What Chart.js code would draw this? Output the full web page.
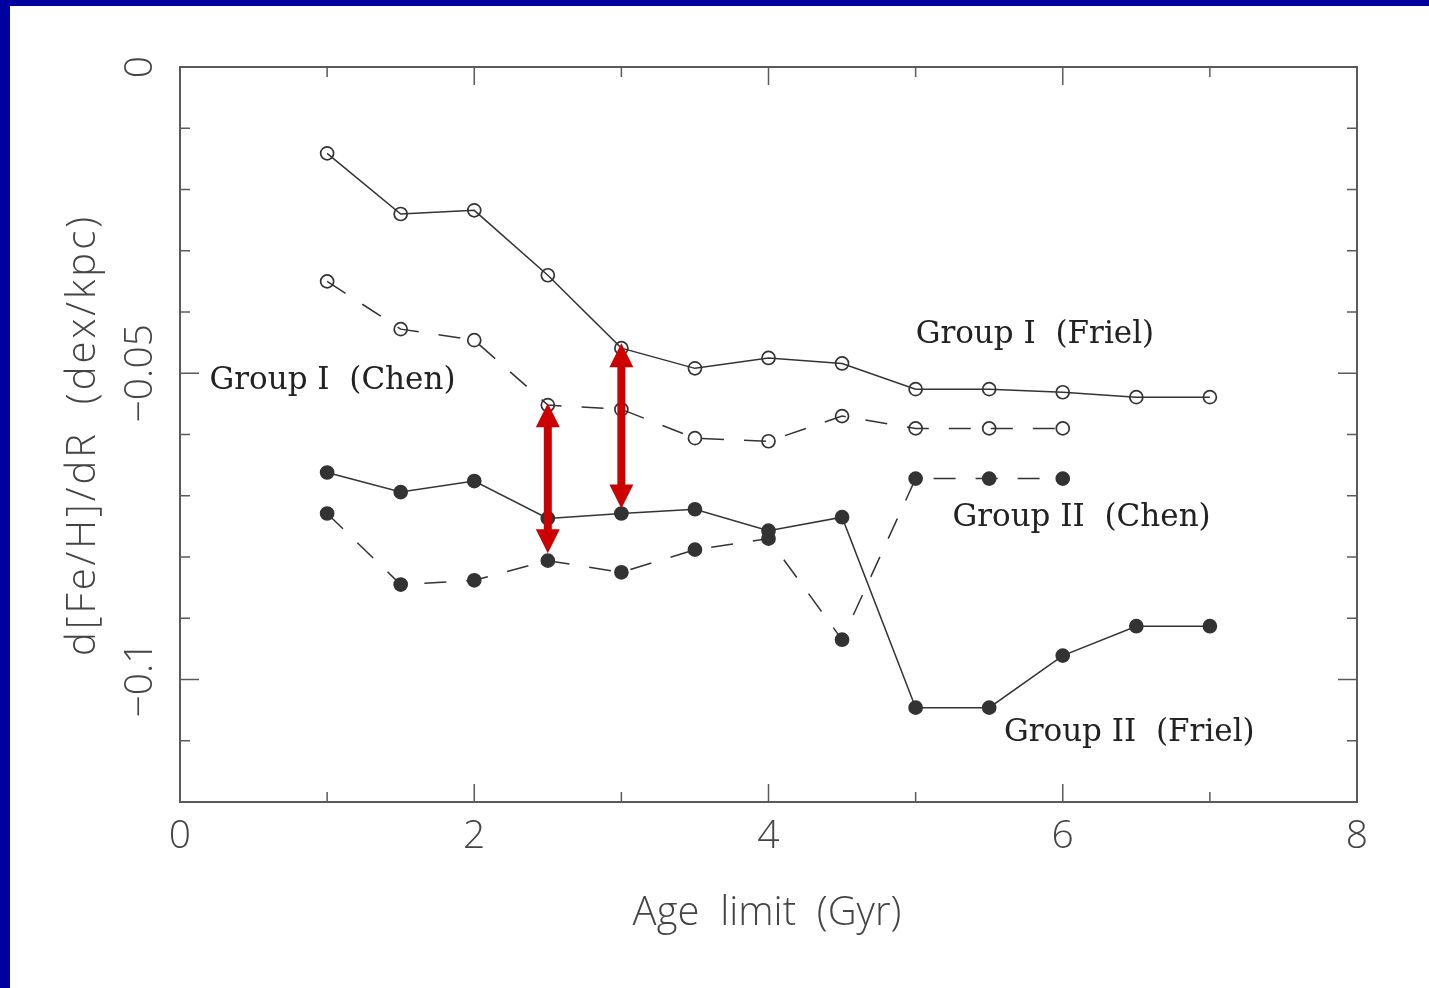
<!DOCTYPE html>
<html>
<head>
<meta charset="utf-8">
<script src="https://cdn.jsdelivr.net/npm/chart.js@4.4.1/dist/chart.umd.min.js"></script>
<style>
  html, body { margin: 0; padding: 0; background: #fff; }
  canvas { display: block; }
</style>
</head>
<body>
<canvas id="grad" width="1429" height="988"></canvas>
<script>
// ages (Gyr) for each group
const agesFriel = [1, 1.5, 2, 2.5, 3, 3.5, 4, 4.5, 5, 5.5, 6, 6.5, 7];
const agesChen = [1, 1.5, 2, 2.5, 3, 3.5, 4, 4.5, 5, 5.5, 6];

// gradients d[Fe/H]/dR
const groupIFriel = [-0.0141, -0.0240, -0.0234, -0.0340, -0.0459, -0.0492, -0.0475, -0.0484, -0.0526, -0.0526, -0.0531, -0.0539, -0.0539];
const groupIChen = [-0.0350, -0.0428, -0.0446, -0.0552, -0.0559, -0.0606, -0.0611, -0.0570, -0.0590, -0.0590, -0.0590];
const groupIIFriel = [-0.0662, -0.0694, -0.0676, -0.0737, -0.0729, -0.0722, -0.0757, -0.0735, -0.1046, -0.1046, -0.0961, -0.0913, -0.0913];
const groupIIChen = [-0.0729, -0.0845, -0.0838, -0.0806, -0.0825, -0.0788, -0.0770, -0.0935, -0.0672, -0.0672, -0.0672];

// axis ticks
const xMajorTicks = [0, 2, 4, 6, 8];
const xMinorTicks = [1, 3, 5, 7];
const yMajorTicks = [0, -0.05, -0.1];
const yMinorTicks = [-0.01, -0.02, -0.03, -0.04, -0.06, -0.07, -0.08, -0.09, -0.11];
const yTickLabels = ['0', '\u22120.05', '\u22120.1'];

// curve labels: text, x, y (data units, left/middle anchored)
const labelTexts = ['Group I  (Friel)', 'Group I  (Chen)', 'Group II  (Chen)', 'Group II  (Friel)'];
const labelX = [5.0, 0.2, 5.25, 5.6];
const labelY = [-0.0437, -0.0513, -0.0737, -0.1087];

// red double arrows
const arrowX = [2.5, 3];
const arrowTop = [-0.0549, -0.0451];
const arrowBottom = [-0.0794, -0.0721];

const INK = '#333';
const AXIS = '#5a5a5a';

function pts(xs, ys) {
  return xs.map((x, i) => ({x: x, y: ys[i]}));
}

function series(xs, ys, filled, dashed) {
  return {
    data: pts(xs, ys),
    borderColor: INK,
    borderWidth: 1.5,
    borderDash: dashed ? [22, 20] : [],
    pointRadius: 6.5,
    pointBorderWidth: 1.7,
    pointBorderColor: INK,
    pointBackgroundColor: filled ? INK : 'rgba(255,255,255,0)',
    tension: 0,
    fill: false
  };
}

const decor = {
  id: 'decor',
  beforeDraw(chart) {
    const ctx = chart.ctx;
    ctx.save();
    ctx.fillStyle = '#fff';
    ctx.fillRect(0, 0, chart.width, chart.height);
    ctx.fillStyle = '#0000a0';
    ctx.fillRect(0, 0, chart.width, 6);
    ctx.fillRect(0, 0, 10, chart.height);
    ctx.restore();
  },
  beforeDatasetsDraw(chart) {
    const ctx = chart.ctx;
    const a = chart.chartArea;
    const xs = chart.scales.x, ys = chart.scales.y;
    ctx.save();
    ctx.strokeStyle = AXIS;
    ctx.lineWidth = 2;
    ctx.strokeRect(a.left, a.top, a.right - a.left, a.bottom - a.top);
    ctx.lineWidth = 1.5;
    const xt = (v, len) => {
      const p = xs.getPixelForValue(v);
      ctx.beginPath();
      ctx.moveTo(p, a.bottom); ctx.lineTo(p, a.bottom - len);
      ctx.moveTo(p, a.top); ctx.lineTo(p, a.top + len);
      ctx.stroke();
    };
    const yt = (v, len) => {
      const p = ys.getPixelForValue(v);
      ctx.beginPath();
      ctx.moveTo(a.left, p); ctx.lineTo(a.left + len, p);
      ctx.moveTo(a.right, p); ctx.lineTo(a.right - len, p);
      ctx.stroke();
    };
    xMajorTicks.forEach(v => xt(v, 18));
    xMinorTicks.forEach(v => xt(v, 10));
    yMajorTicks.forEach(v => yt(v, 19));
    yMinorTicks.forEach(v => yt(v, 10));

    // tick labels
    ctx.fillStyle = '#444';
    ctx.font = '300 39px "Open Sans", "DejaVu Sans", sans-serif';
    ctx.textAlign = 'center';
    ctx.textBaseline = 'middle';
    xMajorTicks.forEach(v => {
      ctx.fillText(String(v), xs.getPixelForValue(v), 837);
    });
    yMajorTicks.forEach((v, i) => {
      ctx.save();
      ctx.translate(141, ys.getPixelForValue(v));
      ctx.rotate(-Math.PI / 2);
      ctx.fillText(yTickLabels[i], 0, 0);
      ctx.restore();
    });

    // axis titles
    ctx.font = '300 40px "Open Sans", "DejaVu Sans", sans-serif';
    ctx.fillText('Age  limit  (Gyr)', 767, 914);
    ctx.save();
    ctx.translate(84, 435);
    ctx.rotate(-Math.PI / 2);
    ctx.letterSpacing = '3px';
    ctx.fillText('d[Fe/H]/dR  (dex/kpc)', 0, 0);
    ctx.restore();
    ctx.restore();
  },
  afterDatasetsDraw(chart) {
    const ctx = chart.ctx;
    const xs = chart.scales.x, ys = chart.scales.y;
    ctx.save();
    // curve labels
    ctx.fillStyle = '#222';
    ctx.font = '31px "DejaVu Serif", "Liberation Serif", serif';
    ctx.textAlign = 'left';
    ctx.textBaseline = 'middle';
    labelTexts.forEach((t, i) => {
      ctx.fillText(t, xs.getPixelForValue(labelX[i]), ys.getPixelForValue(labelY[i]));
    });
    // double arrows
    ctx.fillStyle = '#cc0000';
    const headL = 24, headW = 12, shaft = 8;
    arrowX.forEach((x, i) => {
      const px = xs.getPixelForValue(x);
      const t = ys.getPixelForValue(arrowTop[i]);
      const b = ys.getPixelForValue(arrowBottom[i]);
      ctx.fillRect(px - shaft / 2, t + headL - 1, shaft, b - t - 2 * headL + 2);
      ctx.beginPath();
      ctx.moveTo(px, t); ctx.lineTo(px + headW, t + headL); ctx.lineTo(px - headW, t + headL);
      ctx.closePath(); ctx.fill();
      ctx.beginPath();
      ctx.moveTo(px, b); ctx.lineTo(px + headW, b - headL); ctx.lineTo(px - headW, b - headL);
      ctx.closePath(); ctx.fill();
    });
    ctx.restore();
  }
};

new Chart(document.getElementById('grad'), {
  type: 'line',
  data: {
    datasets: [
      series(agesFriel, groupIFriel, false, false),
      series(agesChen, groupIChen, false, true),
      series(agesFriel, groupIIFriel, true, false),
      series(agesChen, groupIIChen, true, true)
    ]
  },
  options: {
    responsive: false,
    devicePixelRatio: 1,
    animation: false,
    events: [],
    layout: { padding: { left: 180, right: 72, top: 67, bottom: 186 } },
    plugins: { legend: { display: false }, tooltip: { enabled: false } },
    scales: {
      x: { type: 'linear', min: 0, max: 8, display: false },
      y: { type: 'linear', min: -0.12, max: 0, display: false }
    }
  },
  plugins: [decor]
});
</script>
</body>
</html>
